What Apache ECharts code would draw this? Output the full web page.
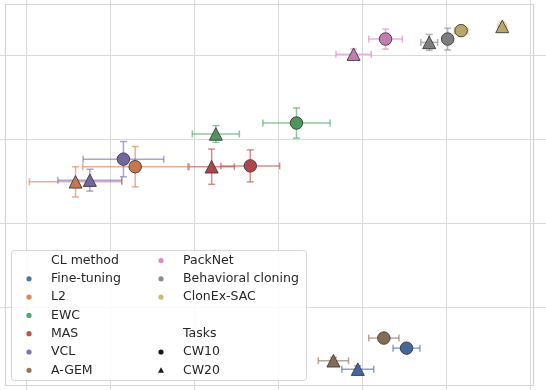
<!DOCTYPE html>
<html><head><meta charset="utf-8">
<script src="https://cdn.jsdelivr.net/npm/echarts@6/dist/echarts.min.js"></script>
<style>html,body{margin:0;padding:0;background:#fff}#c{width:546px;height:390px}</style>
</head><body><div id="c"></div>
<script>
const methods = ['Fine-tuning','L2','EWC','MAS','VCL','A-GEM','PackNet','Behavioral cloning','ClonEx-SAC'];
const colors  = ['#4c72b0','#dd8452','#55a868','#c44e52','#8172b3','#937860','#da8bc3','#8c8c8c','#ccb974'];
const tasks = ['CW10','CW20'];

const cw10X    = [0.453, 0.130, 0.322, 0.267, 0.116, 0.426, 0.428, 0.502, 0.518];
const cw10Y    = [-0.049, 0.167, 0.219, 0.168, 0.176, -0.037, 0.319, 0.319, 0.329];
const cw10XErr = [0.016, 0.0625, 0.040, 0.035, 0.048, 0.018, 0.020, 0.006, 0.008];
const cw10YErr = [0.004, 0.024, 0.018, 0.019, 0.021, 0.004, 0.012, 0.013, 0.006];

const cw20X    = [0.395, 0.059, 0.226, 0.221, 0.076, 0.366, 0.390, 0.480, 0.567];
const cw20Y    = [-0.074, 0.149, 0.206, 0.167, 0.151, -0.064, 0.301, 0.315, 0.334];
const cw20XErr = [0.019, 0.055, 0.028, 0.027, 0.038, 0.018, 0.021, 0.010, 0.005];
const cw20YErr = [0.004, 0.018, 0.010, 0.021, 0.013, 0.004, 0.006, 0.0095, 0.005];

const TEXT = '#262626';
const FONT = '12.5px "DejaVu Sans"';

function shade(hex, f){
  const n=parseInt(hex.slice(1),16);
  const r=Math.round(((n>>16)&255)*f), g=Math.round(((n>>8)&255)*f), b=Math.round((n&255)*f);
  return 'rgb('+r+','+g+','+b+')';
}
function errRows(X, Y, EX, EY){ return X.map((x,i)=>[x, Y[i], EX[i], EY[i], i]); }
function ptRows(X, Y){ return X.map((x,i)=>({value:[x, Y[i]], itemStyle:{color: shade(colors[i],0.9)}})); }

function renderErr(params, api){
  const x=api.value(0), y=api.value(1), ex=api.value(2), ey=api.value(3), ci=api.value(4);
  const c = colors[ci];
  const pL=api.coord([x-ex,y]), pR=api.coord([x+ex,y]);
  const pT=api.coord([x,y+ey]), pB=api.coord([x,y-ey]);
  const cap=3.5;
  const st={stroke:c, lineWidth:1.5, opacity:0.65};
  const L=(x1,y1,x2,y2)=>({type:'line', shape:{x1,y1,x2,y2}, style:st});
  return {type:'group', children:[
    L(pL[0],pL[1],pR[0],pR[1]),
    L(pL[0],pL[1]-cap,pL[0],pL[1]+cap),
    L(pR[0],pR[1]-cap,pR[0],pR[1]+cap),
    L(pT[0],pT[1],pB[0],pB[1]),
    L(pT[0]-cap,pT[1],pT[0]+cap,pT[1]),
    L(pB[0]-cap,pB[1],pB[0]+cap,pB[1])
  ]};
}

// legend as graphic elements
const legendEls = [];
legendEls.push({type:'rect', left:11, top:250, shape:{x:0,y:0,width:295,height:130,r:3},
  style:{fill:'rgba(255,255,255,0.85)', stroke:'#d6d6d6', lineWidth:1}, z:50});
const rowY0 = 260.5, rowH = 18.3;
const col1 = [{t:'CL method'}].concat(methods.slice(0,6).map((m,i)=>({t:m,c:colors[i]})));
const col2 = methods.slice(6).map((m,i)=>({t:m,c:colors[i+6]}))
  .concat([{t:''},{t:'Tasks'},{t:tasks[0],c:'#1a1a1a',s:'circle'},{t:tasks[1],c:'#1a1a1a',s:'tri'}]);
function addCol(items, mx, tx){
  items.forEach((it,k)=>{
    const y = rowY0 + k*rowH;
    if(it.c){
      if(it.s==='tri'){
        legendEls.push({type:'polygon', shape:{points:[[mx,y-3],[mx-3,y+2.5],[mx+3,y+2.5]]}, style:{fill:it.c}, z:51});
      } else {
        legendEls.push({type:'circle', shape:{cx:mx,cy:y,r:2.6}, style:{fill:it.c}, z:51});
      }
    }
    if(it.t) legendEls.push({type:'text', x:tx, y:y, style:{text:it.t, font:FONT, fill:TEXT, verticalAlign:'middle', align:'left'}, z:51});
  });
}
addCol(col1, 29, 51);
addCol(col2, 161, 183);

const chart = echarts.init(document.getElementById('c'), null, {renderer:'canvas'});
chart.setOption({
  animation:false,
  backgroundColor:'#fff',
  grid:{left:-58, top:-29, width:672, height:420, containLabel:false, outerBoundsMode:'none'},
  xAxis:{type:'value', min:-0.1, max:0.7, interval:0.1,
    axisLine:{show:false}, axisTick:{show:false}, axisLabel:{show:false},
    splitLine:{show:true, lineStyle:{color:'#d9d9d9', width:1}}},
  yAxis:{type:'value', min:-0.1, max:0.4, interval:0.1,
    axisLine:{show:false}, axisTick:{show:false}, axisLabel:{show:false},
    splitLine:{show:true, lineStyle:{color:'#d9d9d9', width:1}}},
  graphic:[
    {type:'rect', shape:{x:5.5,y:4.5,width:528,height:381}, style:{fill:'none', stroke:'#d4d4d4', lineWidth:1.2}, z:40}
  ].concat(legendEls),
  series:[
    {type:'custom', name:'err10', data:errRows(cw10X,cw10Y,cw10XErr,cw10YErr), renderItem:renderErr, clip:false, z:2},
    {type:'custom', name:'err20', data:errRows(cw20X,cw20Y,cw20XErr,cw20YErr), renderItem:renderErr, clip:false, z:2},
    {type:'scatter', name:tasks[0], symbol:'circle', symbolSize:12.5, data:ptRows(cw10X,cw10Y), clip:false, z:3,
      itemStyle:{borderColor:'#3a3a3a', borderWidth:0.9, opacity:1}},
    {type:'scatter', name:tasks[1], symbol:'triangle', symbolSize:[13,12.5], data:ptRows(cw20X,cw20Y), clip:false, z:3,
      itemStyle:{borderColor:'#3a3a3a', borderWidth:0.9, opacity:1}}
  ]
});
</script></body></html>
